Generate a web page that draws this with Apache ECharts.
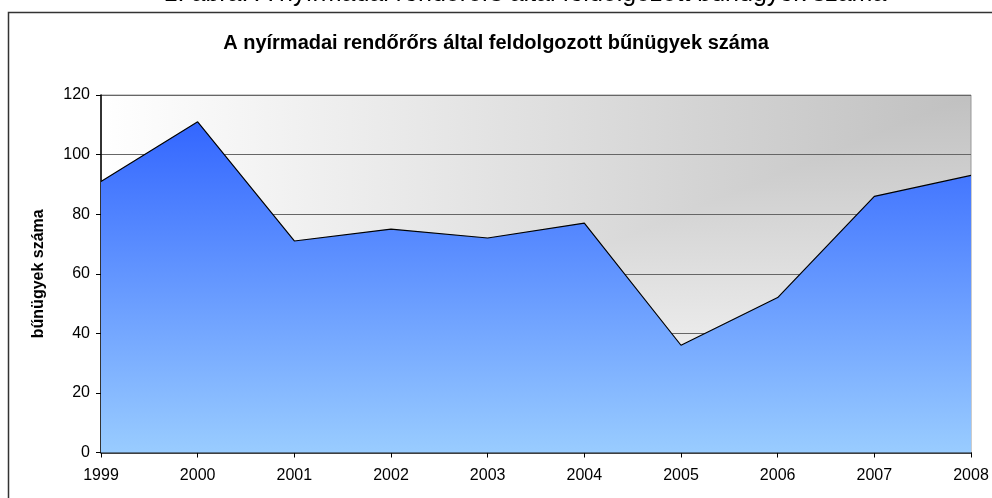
<!DOCTYPE html>
<html>
<head>
<meta charset="utf-8">
<script src="https://cdn.jsdelivr.net/npm/echarts@6/dist/echarts.min.js"></script>
<style>
html, body { margin: 0; padding: 0; background: #fff; }
#chart { width: 992px; height: 498px; }
</style>
</head>
<body>
<div id="chart"></div>
<script>
// évek és bűnügyek száma
const years = ['1999', '2000', '2001', '2002', '2003', '2004', '2005', '2006', '2007', '2008']
const cases = [91, 111, 71, 75, 72, 77, 36, 52, 86, 93]
const yTicks = [0, 20, 40, 60, 80, 100, 120]

const chart = echarts.init(document.getElementById('chart'))
const font = '"Liberation Sans", Arial, sans-serif'

const option = {
    animation: false,
    backgroundColor: '#fff',
    title: {
        text: 'A nyírmadai rendőrőrs által feldolgozott bűnügyek száma',
        left: 'center',
        top: 28,
        textStyle: { fontFamily: font, fontSize: 20, fontWeight: 'bold', color: '#000' }
    },
    grid: {
        left: 101, right: 21, top: 95, bottom: 45.5,
        show: true,
        backgroundColor: 'transparent',
        borderColor: '#999',
        borderWidth: 1
    },
    xAxis: {
        type: 'category',
        data: years,
        boundaryGap: false,
        axisLine: { lineStyle: { color: '#000', width: 1.5 } },
        axisTick: { length: 5, lineStyle: { color: '#000' } },
        axisLabel: { margin: 15, color: '#000', fontFamily: font, fontSize: 16 },
        splitLine: { show: false }
    },
    yAxis: {
        type: 'value',
        min: yTicks[0],
        max: yTicks[yTicks.length - 1],
        interval: 20,
        name: 'bűnügyek száma',
        nameLocation: 'middle',
        nameGap: 54,
        nameTextStyle: { fontFamily: font, fontSize: 16, fontWeight: 'bold', color: '#000' },
        axisLine: { show: true, lineStyle: { color: '#000', width: 1.5 } },
        axisTick: { show: true, length: 5, lineStyle: { color: '#000' } },
        axisLabel: { margin: 11, color: '#000', fontFamily: font, fontSize: 16 },
        splitLine: { lineStyle: { color: '#666', width: 1 } }
    },
    series: [
        {
            type: 'line',
            data: cases,
            symbol: 'none',
            z: 3,
            lineStyle: { color: '#000', width: 1.2 },
            areaStyle: {
                opacity: 1,
                color: new echarts.graphic.LinearGradient(0, 0, 0, 1, [
                    { offset: 0, color: '#3366ff' },
                    { offset: 1, color: '#99ccff' }
                ])
            }
        }
    ]
}
chart.setOption(option)

// háttér: "sarokból" színátmenet (teljes téglalap + háromszög), levágott felirat, keret
const p0 = chart.convertToPixel({ gridIndex: 0 }, [0, yTicks[yTicks.length - 1]])
const p1 = chart.convertToPixel({ gridIndex: 0 }, [years.length - 1, yTicks[0]])
const x0 = p0[0], y0 = p0[1], x1 = p1[0], y1 = p1[1]
chart.setOption({
    graphic: [
        {
            type: 'rect', z: -11, silent: true,
            shape: { x: x0, y: y0, width: x1 - x0, height: y1 - y0 },
            style: {
                fill: new echarts.graphic.LinearGradient(x0, 0, x1, 0, [
                    { offset: 0, color: '#ffffff' },
                    { offset: 1, color: '#c0c0c0' }
                ], true)
            }
        },
        {
            type: 'polygon', z: -10, silent: true,
            shape: { points: [[x1, y0], [x1, y1], [x0, y1]] },
            style: {
                fill: new echarts.graphic.LinearGradient(0, y0, 0, y1, [
                    { offset: 0, color: '#c0c0c0' },
                    { offset: 1, color: '#ffffff' }
                ], true)
            }
        },
        {
            type: 'rect', z: 1, silent: true,
            shape: { x: 8.5, y: 12.5, width: 1000, height: 500 },
            style: { fill: 'none', stroke: '#333', lineWidth: 1.5 }
        },
        {
            type: 'text', z: 1, silent: true,
            x: 525, y: 7,
            style: {
                text: '1. ábra: A nyírmadai rendőrőrs által feldolgozott bűnügyek száma',
                font: '25px "Liberation Sans", Arial, sans-serif',
                fill: '#000',
                align: 'center',
                verticalAlign: 'bottom'
            }
        }
    ]
})
</script>
</body>
</html>
